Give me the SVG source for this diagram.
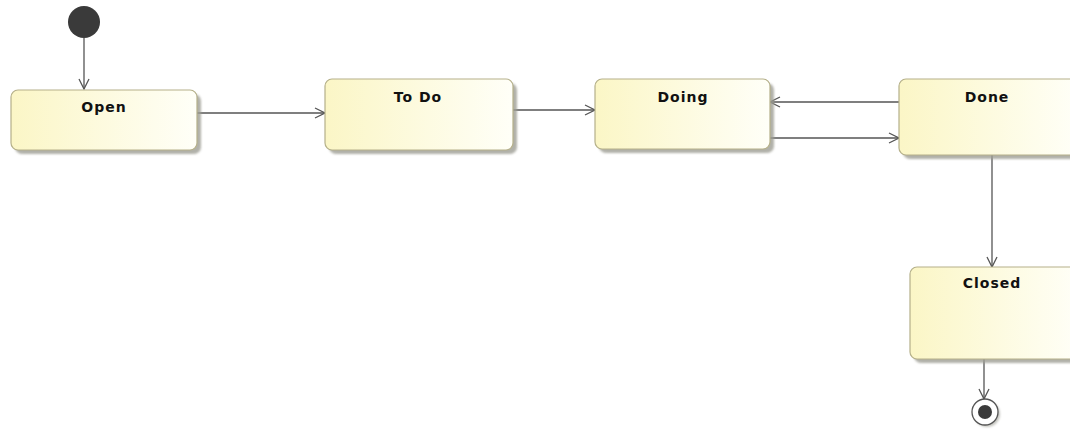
<svg xmlns="http://www.w3.org/2000/svg" width="1070" height="439" viewBox="0 0 1070 439">
  <style>
    .state { fill: url(#stateFill); stroke: #b5b08a; stroke-width: 1.2; }
    .shadow { fill: #9e9e94; opacity: 0.8; }
    .label { font-family: "DejaVu Sans", "Liberation Sans", sans-serif; font-size: 14px; font-weight: bold; letter-spacing: 1px; fill: #111; text-anchor: middle; }
    .edge { stroke: #555; stroke-width: 1.3; fill: none; marker-end: url(#openArrow); }
  </style>
  <defs>
    <linearGradient id="stateFill" x1="0" y1="0" x2="1" y2="0">
      <stop offset="0" stop-color="#fbf6c6"/>
      <stop offset="1" stop-color="#fffff8"/>
    </linearGradient>
    <filter id="soft" x="-10%" y="-10%" width="130%" height="130%">
      <feGaussianBlur stdDeviation="1"/>
    </filter>
    <marker id="openArrow" viewBox="0 0 12 12" refX="11" refY="6" markerWidth="12" markerHeight="12" markerUnits="userSpaceOnUse" orient="auto">
      <path d="M1,1 L11,6 L1,11" fill="none" stroke="#555" stroke-width="1.3"/>
    </marker>
  </defs>

  <!-- transitions -->
  <g id="connectors">
    <line class="edge" x1="84" y1="38" x2="84" y2="89"/>
    <line class="edge" x1="197" y1="113" x2="325" y2="113"/>
    <line class="edge" x1="513" y1="110" x2="595" y2="110"/>
    <line class="edge" x1="899" y1="102" x2="770" y2="102"/>
    <line class="edge" x1="770" y1="138" x2="899" y2="138"/>
    <line class="edge" x1="992" y1="155" x2="992" y2="267"/>
    <line class="edge" x1="984" y1="359" x2="984" y2="399"/>
  </g>

  <g id="initial">
    <circle cx="84" cy="22" r="16" fill="#3a3a3a"/>
  </g>

  <g id="open">
    <rect class="shadow" x="15" y="94" width="186" height="60" rx="7" filter="url(#soft)"/>
    <rect class="state" x="11" y="90" width="186" height="60" rx="7"/>
    <text class="label" x="104" y="112">Open</text>
  </g>

  <g id="todo">
    <rect class="shadow" x="329" y="83" width="188" height="71" rx="7" filter="url(#soft)"/>
    <rect class="state" x="325" y="79" width="188" height="71" rx="7"/>
    <text class="label" x="418" y="102">To Do</text>
  </g>

  <g id="doing">
    <rect class="shadow" x="599" y="83" width="175" height="70" rx="7" filter="url(#soft)"/>
    <rect class="state" x="595" y="79" width="175" height="70" rx="7"/>
    <text class="label" x="683" y="102">Doing</text>
  </g>

  <g id="done">
    <rect class="shadow" x="903" y="83" width="180" height="76" rx="7" filter="url(#soft)"/>
    <rect class="state" x="899" y="79" width="180" height="76" rx="7"/>
    <text class="label" x="987" y="102">Done</text>
  </g>

  <g id="closed">
    <rect class="shadow" x="914" y="271" width="170" height="92" rx="7" filter="url(#soft)"/>
    <rect class="state" x="910" y="267" width="170" height="92" rx="7"/>
    <text class="label" x="992" y="288">Closed</text>
  </g>

  <g id="final">
    <circle cx="987" cy="414" r="13" fill="#9e9e94" opacity="0.6" filter="url(#soft)"/>
    <circle cx="985" cy="412" r="13" fill="#fff" stroke="#555" stroke-width="1.3"/>
    <circle cx="985" cy="412" r="7" fill="#3a3a3a"/>
  </g>
</svg>
